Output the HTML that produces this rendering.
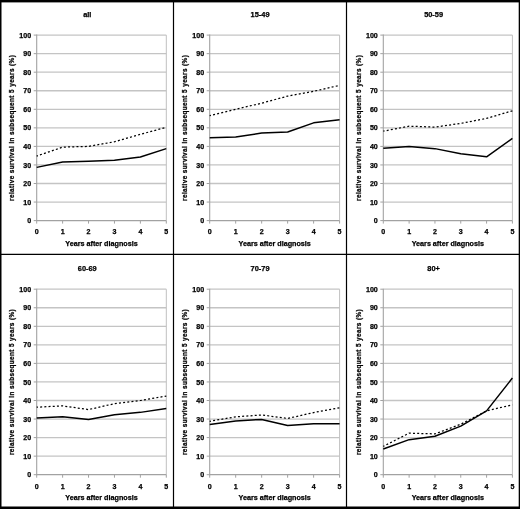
<!DOCTYPE html><html><head><meta charset="utf-8"><style>html,body{margin:0;padding:0;background:#fff;width:520px;height:509px;overflow:hidden}svg{display:block;will-change:transform}text{font-family:"Liberation Sans",sans-serif;font-weight:bold;fill:#000;stroke:#000;stroke-width:0.25px}</style></head><body>
<svg width="520" height="509" viewBox="0 0 520 509">
<g>
<rect x="0" y="0" width="520" height="509" fill="#fff"/>
<line x1="36.70" y1="202.05" x2="166.30" y2="202.05" stroke="#c4c4c4" stroke-width="1.3"/>
<line x1="36.70" y1="183.50" x2="166.30" y2="183.50" stroke="#c4c4c4" stroke-width="1.3"/>
<line x1="36.70" y1="164.95" x2="166.30" y2="164.95" stroke="#c4c4c4" stroke-width="1.3"/>
<line x1="36.70" y1="146.40" x2="166.30" y2="146.40" stroke="#c4c4c4" stroke-width="1.3"/>
<line x1="36.70" y1="127.85" x2="166.30" y2="127.85" stroke="#c4c4c4" stroke-width="1.3"/>
<line x1="36.70" y1="109.30" x2="166.30" y2="109.30" stroke="#c4c4c4" stroke-width="1.3"/>
<line x1="36.70" y1="90.75" x2="166.30" y2="90.75" stroke="#c4c4c4" stroke-width="1.3"/>
<line x1="36.70" y1="72.20" x2="166.30" y2="72.20" stroke="#c4c4c4" stroke-width="1.3"/>
<line x1="36.70" y1="53.65" x2="166.30" y2="53.65" stroke="#c4c4c4" stroke-width="1.3"/>
<line x1="36.70" y1="35.10" x2="166.30" y2="35.10" stroke="#c4c4c4" stroke-width="1.3"/>
<line x1="166.30" y1="35.10" x2="166.30" y2="220.60" stroke="#c0c0c0" stroke-width="1"/>
<line x1="36.70" y1="34.60" x2="36.70" y2="221.10" stroke="#a2a2a2" stroke-width="1.1"/>
<line x1="33.70" y1="220.60" x2="36.70" y2="220.60" stroke="#a2a2a2" stroke-width="1"/>
<text x="31.20" y="223.20" font-size="7.10" text-anchor="end">0</text>
<line x1="33.70" y1="202.05" x2="36.70" y2="202.05" stroke="#a2a2a2" stroke-width="1"/>
<text x="31.20" y="204.65" font-size="7.10" text-anchor="end">10</text>
<line x1="33.70" y1="183.50" x2="36.70" y2="183.50" stroke="#a2a2a2" stroke-width="1"/>
<text x="31.20" y="186.10" font-size="7.10" text-anchor="end">20</text>
<line x1="33.70" y1="164.95" x2="36.70" y2="164.95" stroke="#a2a2a2" stroke-width="1"/>
<text x="31.20" y="167.55" font-size="7.10" text-anchor="end">30</text>
<line x1="33.70" y1="146.40" x2="36.70" y2="146.40" stroke="#a2a2a2" stroke-width="1"/>
<text x="31.20" y="149.00" font-size="7.10" text-anchor="end">40</text>
<line x1="33.70" y1="127.85" x2="36.70" y2="127.85" stroke="#a2a2a2" stroke-width="1"/>
<text x="31.20" y="130.45" font-size="7.10" text-anchor="end">50</text>
<line x1="33.70" y1="109.30" x2="36.70" y2="109.30" stroke="#a2a2a2" stroke-width="1"/>
<text x="31.20" y="111.90" font-size="7.10" text-anchor="end">60</text>
<line x1="33.70" y1="90.75" x2="36.70" y2="90.75" stroke="#a2a2a2" stroke-width="1"/>
<text x="31.20" y="93.35" font-size="7.10" text-anchor="end">70</text>
<line x1="33.70" y1="72.20" x2="36.70" y2="72.20" stroke="#a2a2a2" stroke-width="1"/>
<text x="31.20" y="74.80" font-size="7.10" text-anchor="end">80</text>
<line x1="33.70" y1="53.65" x2="36.70" y2="53.65" stroke="#a2a2a2" stroke-width="1"/>
<text x="31.20" y="56.25" font-size="7.10" text-anchor="end">90</text>
<line x1="33.70" y1="35.10" x2="36.70" y2="35.10" stroke="#a2a2a2" stroke-width="1"/>
<text x="31.20" y="37.70" font-size="7.10" text-anchor="end">100</text>
<line x1="36.70" y1="220.60" x2="166.30" y2="220.60" stroke="#a2a2a2" stroke-width="1.3"/>
<line x1="36.70" y1="220.60" x2="36.70" y2="223.60" stroke="#a2a2a2" stroke-width="1"/>
<text x="36.70" y="234.40" font-size="7.10" text-anchor="middle">0</text>
<line x1="62.62" y1="220.60" x2="62.62" y2="223.60" stroke="#a2a2a2" stroke-width="1"/>
<text x="62.62" y="234.40" font-size="7.10" text-anchor="middle">1</text>
<line x1="88.54" y1="220.60" x2="88.54" y2="223.60" stroke="#a2a2a2" stroke-width="1"/>
<text x="88.54" y="234.40" font-size="7.10" text-anchor="middle">2</text>
<line x1="114.46" y1="220.60" x2="114.46" y2="223.60" stroke="#a2a2a2" stroke-width="1"/>
<text x="114.46" y="234.40" font-size="7.10" text-anchor="middle">3</text>
<line x1="140.38" y1="220.60" x2="140.38" y2="223.60" stroke="#a2a2a2" stroke-width="1"/>
<text x="140.38" y="234.40" font-size="7.10" text-anchor="middle">4</text>
<line x1="166.30" y1="220.60" x2="166.30" y2="223.60" stroke="#a2a2a2" stroke-width="1"/>
<text x="166.30" y="234.40" font-size="7.10" text-anchor="middle">5</text>
<text x="101.50" y="245.90" font-size="7.20" text-anchor="middle">Years after diagnosis</text>
<text x="0" y="0" font-size="6.40" text-anchor="middle" letter-spacing="0.4" transform="translate(14.00 127.85) rotate(-90)">relative survival in subsequent 5 years (%)</text>
<text x="87.25" y="16.75" font-size="7.40" text-anchor="middle">all</text>
<polyline points="36.70,156.05 62.62,147.14 88.54,146.40 114.46,141.76 140.38,134.34 166.30,127.29" fill="none" stroke="#000" stroke-width="1.25" stroke-dasharray="2 2.2" stroke-dashoffset="0.75" stroke-linejoin="round"/>
<polyline points="36.70,167.36 62.62,161.98 88.54,161.24 114.46,160.31 140.38,156.97 166.30,148.63" fill="none" stroke="#000" stroke-width="1.5" stroke-linejoin="round"/>
<line x1="209.70" y1="202.05" x2="339.60" y2="202.05" stroke="#c4c4c4" stroke-width="1.3"/>
<line x1="209.70" y1="183.50" x2="339.60" y2="183.50" stroke="#c4c4c4" stroke-width="1.3"/>
<line x1="209.70" y1="164.95" x2="339.60" y2="164.95" stroke="#c4c4c4" stroke-width="1.3"/>
<line x1="209.70" y1="146.40" x2="339.60" y2="146.40" stroke="#c4c4c4" stroke-width="1.3"/>
<line x1="209.70" y1="127.85" x2="339.60" y2="127.85" stroke="#c4c4c4" stroke-width="1.3"/>
<line x1="209.70" y1="109.30" x2="339.60" y2="109.30" stroke="#c4c4c4" stroke-width="1.3"/>
<line x1="209.70" y1="90.75" x2="339.60" y2="90.75" stroke="#c4c4c4" stroke-width="1.3"/>
<line x1="209.70" y1="72.20" x2="339.60" y2="72.20" stroke="#c4c4c4" stroke-width="1.3"/>
<line x1="209.70" y1="53.65" x2="339.60" y2="53.65" stroke="#c4c4c4" stroke-width="1.3"/>
<line x1="209.70" y1="35.10" x2="339.60" y2="35.10" stroke="#c4c4c4" stroke-width="1.3"/>
<line x1="339.60" y1="35.10" x2="339.60" y2="220.60" stroke="#c0c0c0" stroke-width="1"/>
<line x1="209.70" y1="34.60" x2="209.70" y2="221.10" stroke="#a2a2a2" stroke-width="1.1"/>
<line x1="206.70" y1="220.60" x2="209.70" y2="220.60" stroke="#a2a2a2" stroke-width="1"/>
<text x="204.20" y="223.20" font-size="7.10" text-anchor="end">0</text>
<line x1="206.70" y1="202.05" x2="209.70" y2="202.05" stroke="#a2a2a2" stroke-width="1"/>
<text x="204.20" y="204.65" font-size="7.10" text-anchor="end">10</text>
<line x1="206.70" y1="183.50" x2="209.70" y2="183.50" stroke="#a2a2a2" stroke-width="1"/>
<text x="204.20" y="186.10" font-size="7.10" text-anchor="end">20</text>
<line x1="206.70" y1="164.95" x2="209.70" y2="164.95" stroke="#a2a2a2" stroke-width="1"/>
<text x="204.20" y="167.55" font-size="7.10" text-anchor="end">30</text>
<line x1="206.70" y1="146.40" x2="209.70" y2="146.40" stroke="#a2a2a2" stroke-width="1"/>
<text x="204.20" y="149.00" font-size="7.10" text-anchor="end">40</text>
<line x1="206.70" y1="127.85" x2="209.70" y2="127.85" stroke="#a2a2a2" stroke-width="1"/>
<text x="204.20" y="130.45" font-size="7.10" text-anchor="end">50</text>
<line x1="206.70" y1="109.30" x2="209.70" y2="109.30" stroke="#a2a2a2" stroke-width="1"/>
<text x="204.20" y="111.90" font-size="7.10" text-anchor="end">60</text>
<line x1="206.70" y1="90.75" x2="209.70" y2="90.75" stroke="#a2a2a2" stroke-width="1"/>
<text x="204.20" y="93.35" font-size="7.10" text-anchor="end">70</text>
<line x1="206.70" y1="72.20" x2="209.70" y2="72.20" stroke="#a2a2a2" stroke-width="1"/>
<text x="204.20" y="74.80" font-size="7.10" text-anchor="end">80</text>
<line x1="206.70" y1="53.65" x2="209.70" y2="53.65" stroke="#a2a2a2" stroke-width="1"/>
<text x="204.20" y="56.25" font-size="7.10" text-anchor="end">90</text>
<line x1="206.70" y1="35.10" x2="209.70" y2="35.10" stroke="#a2a2a2" stroke-width="1"/>
<text x="204.20" y="37.70" font-size="7.10" text-anchor="end">100</text>
<line x1="209.70" y1="220.60" x2="339.60" y2="220.60" stroke="#a2a2a2" stroke-width="1.3"/>
<line x1="209.70" y1="220.60" x2="209.70" y2="223.60" stroke="#a2a2a2" stroke-width="1"/>
<text x="209.70" y="234.40" font-size="7.10" text-anchor="middle">0</text>
<line x1="235.68" y1="220.60" x2="235.68" y2="223.60" stroke="#a2a2a2" stroke-width="1"/>
<text x="235.68" y="234.40" font-size="7.10" text-anchor="middle">1</text>
<line x1="261.66" y1="220.60" x2="261.66" y2="223.60" stroke="#a2a2a2" stroke-width="1"/>
<text x="261.66" y="234.40" font-size="7.10" text-anchor="middle">2</text>
<line x1="287.64" y1="220.60" x2="287.64" y2="223.60" stroke="#a2a2a2" stroke-width="1"/>
<text x="287.64" y="234.40" font-size="7.10" text-anchor="middle">3</text>
<line x1="313.62" y1="220.60" x2="313.62" y2="223.60" stroke="#a2a2a2" stroke-width="1"/>
<text x="313.62" y="234.40" font-size="7.10" text-anchor="middle">4</text>
<line x1="339.60" y1="220.60" x2="339.60" y2="223.60" stroke="#a2a2a2" stroke-width="1"/>
<text x="339.60" y="234.40" font-size="7.10" text-anchor="middle">5</text>
<text x="274.65" y="245.90" font-size="7.20" text-anchor="middle">Years after diagnosis</text>
<text x="0" y="0" font-size="6.40" text-anchor="middle" letter-spacing="0.4" transform="translate(187.00 127.85) rotate(-90)">relative survival in subsequent 5 years (%)</text>
<text x="260.05" y="16.75" font-size="7.40" text-anchor="middle">15-49</text>
<polyline points="209.70,115.61 235.68,109.30 261.66,103.18 287.64,96.13 313.62,91.31 339.60,85.37" fill="none" stroke="#000" stroke-width="1.25" stroke-dasharray="2 2.2" stroke-dashoffset="0.75" stroke-linejoin="round"/>
<polyline points="209.70,137.68 235.68,136.94 261.66,133.04 287.64,131.93 313.62,122.84 339.60,119.87" fill="none" stroke="#000" stroke-width="1.5" stroke-linejoin="round"/>
<line x1="383.30" y1="202.05" x2="512.40" y2="202.05" stroke="#c4c4c4" stroke-width="1.3"/>
<line x1="383.30" y1="183.50" x2="512.40" y2="183.50" stroke="#c4c4c4" stroke-width="1.3"/>
<line x1="383.30" y1="164.95" x2="512.40" y2="164.95" stroke="#c4c4c4" stroke-width="1.3"/>
<line x1="383.30" y1="146.40" x2="512.40" y2="146.40" stroke="#c4c4c4" stroke-width="1.3"/>
<line x1="383.30" y1="127.85" x2="512.40" y2="127.85" stroke="#c4c4c4" stroke-width="1.3"/>
<line x1="383.30" y1="109.30" x2="512.40" y2="109.30" stroke="#c4c4c4" stroke-width="1.3"/>
<line x1="383.30" y1="90.75" x2="512.40" y2="90.75" stroke="#c4c4c4" stroke-width="1.3"/>
<line x1="383.30" y1="72.20" x2="512.40" y2="72.20" stroke="#c4c4c4" stroke-width="1.3"/>
<line x1="383.30" y1="53.65" x2="512.40" y2="53.65" stroke="#c4c4c4" stroke-width="1.3"/>
<line x1="383.30" y1="35.10" x2="512.40" y2="35.10" stroke="#c4c4c4" stroke-width="1.3"/>
<line x1="512.40" y1="35.10" x2="512.40" y2="220.60" stroke="#c0c0c0" stroke-width="1"/>
<line x1="383.30" y1="34.60" x2="383.30" y2="221.10" stroke="#a2a2a2" stroke-width="1.1"/>
<line x1="380.30" y1="220.60" x2="383.30" y2="220.60" stroke="#a2a2a2" stroke-width="1"/>
<text x="377.80" y="223.20" font-size="7.10" text-anchor="end">0</text>
<line x1="380.30" y1="202.05" x2="383.30" y2="202.05" stroke="#a2a2a2" stroke-width="1"/>
<text x="377.80" y="204.65" font-size="7.10" text-anchor="end">10</text>
<line x1="380.30" y1="183.50" x2="383.30" y2="183.50" stroke="#a2a2a2" stroke-width="1"/>
<text x="377.80" y="186.10" font-size="7.10" text-anchor="end">20</text>
<line x1="380.30" y1="164.95" x2="383.30" y2="164.95" stroke="#a2a2a2" stroke-width="1"/>
<text x="377.80" y="167.55" font-size="7.10" text-anchor="end">30</text>
<line x1="380.30" y1="146.40" x2="383.30" y2="146.40" stroke="#a2a2a2" stroke-width="1"/>
<text x="377.80" y="149.00" font-size="7.10" text-anchor="end">40</text>
<line x1="380.30" y1="127.85" x2="383.30" y2="127.85" stroke="#a2a2a2" stroke-width="1"/>
<text x="377.80" y="130.45" font-size="7.10" text-anchor="end">50</text>
<line x1="380.30" y1="109.30" x2="383.30" y2="109.30" stroke="#a2a2a2" stroke-width="1"/>
<text x="377.80" y="111.90" font-size="7.10" text-anchor="end">60</text>
<line x1="380.30" y1="90.75" x2="383.30" y2="90.75" stroke="#a2a2a2" stroke-width="1"/>
<text x="377.80" y="93.35" font-size="7.10" text-anchor="end">70</text>
<line x1="380.30" y1="72.20" x2="383.30" y2="72.20" stroke="#a2a2a2" stroke-width="1"/>
<text x="377.80" y="74.80" font-size="7.10" text-anchor="end">80</text>
<line x1="380.30" y1="53.65" x2="383.30" y2="53.65" stroke="#a2a2a2" stroke-width="1"/>
<text x="377.80" y="56.25" font-size="7.10" text-anchor="end">90</text>
<line x1="380.30" y1="35.10" x2="383.30" y2="35.10" stroke="#a2a2a2" stroke-width="1"/>
<text x="377.80" y="37.70" font-size="7.10" text-anchor="end">100</text>
<line x1="383.30" y1="220.60" x2="512.40" y2="220.60" stroke="#a2a2a2" stroke-width="1.3"/>
<line x1="383.30" y1="220.60" x2="383.30" y2="223.60" stroke="#a2a2a2" stroke-width="1"/>
<text x="383.30" y="234.40" font-size="7.10" text-anchor="middle">0</text>
<line x1="409.12" y1="220.60" x2="409.12" y2="223.60" stroke="#a2a2a2" stroke-width="1"/>
<text x="409.12" y="234.40" font-size="7.10" text-anchor="middle">1</text>
<line x1="434.94" y1="220.60" x2="434.94" y2="223.60" stroke="#a2a2a2" stroke-width="1"/>
<text x="434.94" y="234.40" font-size="7.10" text-anchor="middle">2</text>
<line x1="460.76" y1="220.60" x2="460.76" y2="223.60" stroke="#a2a2a2" stroke-width="1"/>
<text x="460.76" y="234.40" font-size="7.10" text-anchor="middle">3</text>
<line x1="486.58" y1="220.60" x2="486.58" y2="223.60" stroke="#a2a2a2" stroke-width="1"/>
<text x="486.58" y="234.40" font-size="7.10" text-anchor="middle">4</text>
<line x1="512.40" y1="220.60" x2="512.40" y2="223.60" stroke="#a2a2a2" stroke-width="1"/>
<text x="512.40" y="234.40" font-size="7.10" text-anchor="middle">5</text>
<text x="447.85" y="245.90" font-size="7.20" text-anchor="middle">Years after diagnosis</text>
<text x="0" y="0" font-size="6.40" text-anchor="middle" letter-spacing="0.4" transform="translate(360.60 127.85) rotate(-90)">relative survival in subsequent 5 years (%)</text>
<text x="433.60" y="16.75" font-size="7.40" text-anchor="middle">50-59</text>
<polyline points="383.30,131.19 409.12,126.18 434.94,127.11 460.76,123.40 486.58,118.39 512.40,110.78" fill="none" stroke="#000" stroke-width="1.25" stroke-dasharray="2 2.2" stroke-dashoffset="0.75" stroke-linejoin="round"/>
<polyline points="383.30,148.25 409.12,146.40 434.94,148.63 460.76,153.82 486.58,156.79 512.40,138.42" fill="none" stroke="#000" stroke-width="1.5" stroke-linejoin="round"/>
<line x1="36.70" y1="456.15" x2="166.30" y2="456.15" stroke="#c4c4c4" stroke-width="1.3"/>
<line x1="36.70" y1="437.60" x2="166.30" y2="437.60" stroke="#c4c4c4" stroke-width="1.3"/>
<line x1="36.70" y1="419.05" x2="166.30" y2="419.05" stroke="#c4c4c4" stroke-width="1.3"/>
<line x1="36.70" y1="400.50" x2="166.30" y2="400.50" stroke="#c4c4c4" stroke-width="1.3"/>
<line x1="36.70" y1="381.95" x2="166.30" y2="381.95" stroke="#c4c4c4" stroke-width="1.3"/>
<line x1="36.70" y1="363.40" x2="166.30" y2="363.40" stroke="#c4c4c4" stroke-width="1.3"/>
<line x1="36.70" y1="344.85" x2="166.30" y2="344.85" stroke="#c4c4c4" stroke-width="1.3"/>
<line x1="36.70" y1="326.30" x2="166.30" y2="326.30" stroke="#c4c4c4" stroke-width="1.3"/>
<line x1="36.70" y1="307.75" x2="166.30" y2="307.75" stroke="#c4c4c4" stroke-width="1.3"/>
<line x1="36.70" y1="289.20" x2="166.30" y2="289.20" stroke="#c4c4c4" stroke-width="1.3"/>
<line x1="166.30" y1="289.20" x2="166.30" y2="474.70" stroke="#c0c0c0" stroke-width="1"/>
<line x1="36.70" y1="288.70" x2="36.70" y2="475.20" stroke="#a2a2a2" stroke-width="1.1"/>
<line x1="33.70" y1="474.70" x2="36.70" y2="474.70" stroke="#a2a2a2" stroke-width="1"/>
<text x="31.20" y="477.30" font-size="7.10" text-anchor="end">0</text>
<line x1="33.70" y1="456.15" x2="36.70" y2="456.15" stroke="#a2a2a2" stroke-width="1"/>
<text x="31.20" y="458.75" font-size="7.10" text-anchor="end">10</text>
<line x1="33.70" y1="437.60" x2="36.70" y2="437.60" stroke="#a2a2a2" stroke-width="1"/>
<text x="31.20" y="440.20" font-size="7.10" text-anchor="end">20</text>
<line x1="33.70" y1="419.05" x2="36.70" y2="419.05" stroke="#a2a2a2" stroke-width="1"/>
<text x="31.20" y="421.65" font-size="7.10" text-anchor="end">30</text>
<line x1="33.70" y1="400.50" x2="36.70" y2="400.50" stroke="#a2a2a2" stroke-width="1"/>
<text x="31.20" y="403.10" font-size="7.10" text-anchor="end">40</text>
<line x1="33.70" y1="381.95" x2="36.70" y2="381.95" stroke="#a2a2a2" stroke-width="1"/>
<text x="31.20" y="384.55" font-size="7.10" text-anchor="end">50</text>
<line x1="33.70" y1="363.40" x2="36.70" y2="363.40" stroke="#a2a2a2" stroke-width="1"/>
<text x="31.20" y="366.00" font-size="7.10" text-anchor="end">60</text>
<line x1="33.70" y1="344.85" x2="36.70" y2="344.85" stroke="#a2a2a2" stroke-width="1"/>
<text x="31.20" y="347.45" font-size="7.10" text-anchor="end">70</text>
<line x1="33.70" y1="326.30" x2="36.70" y2="326.30" stroke="#a2a2a2" stroke-width="1"/>
<text x="31.20" y="328.90" font-size="7.10" text-anchor="end">80</text>
<line x1="33.70" y1="307.75" x2="36.70" y2="307.75" stroke="#a2a2a2" stroke-width="1"/>
<text x="31.20" y="310.35" font-size="7.10" text-anchor="end">90</text>
<line x1="33.70" y1="289.20" x2="36.70" y2="289.20" stroke="#a2a2a2" stroke-width="1"/>
<text x="31.20" y="291.80" font-size="7.10" text-anchor="end">100</text>
<line x1="36.70" y1="474.70" x2="166.30" y2="474.70" stroke="#a2a2a2" stroke-width="1.3"/>
<line x1="36.70" y1="474.70" x2="36.70" y2="477.70" stroke="#a2a2a2" stroke-width="1"/>
<text x="36.70" y="488.50" font-size="7.10" text-anchor="middle">0</text>
<line x1="62.62" y1="474.70" x2="62.62" y2="477.70" stroke="#a2a2a2" stroke-width="1"/>
<text x="62.62" y="488.50" font-size="7.10" text-anchor="middle">1</text>
<line x1="88.54" y1="474.70" x2="88.54" y2="477.70" stroke="#a2a2a2" stroke-width="1"/>
<text x="88.54" y="488.50" font-size="7.10" text-anchor="middle">2</text>
<line x1="114.46" y1="474.70" x2="114.46" y2="477.70" stroke="#a2a2a2" stroke-width="1"/>
<text x="114.46" y="488.50" font-size="7.10" text-anchor="middle">3</text>
<line x1="140.38" y1="474.70" x2="140.38" y2="477.70" stroke="#a2a2a2" stroke-width="1"/>
<text x="140.38" y="488.50" font-size="7.10" text-anchor="middle">4</text>
<line x1="166.30" y1="474.70" x2="166.30" y2="477.70" stroke="#a2a2a2" stroke-width="1"/>
<text x="166.30" y="488.50" font-size="7.10" text-anchor="middle">5</text>
<text x="101.50" y="500.00" font-size="7.20" text-anchor="middle">Years after diagnosis</text>
<text x="0" y="0" font-size="6.40" text-anchor="middle" letter-spacing="0.4" transform="translate(14.00 381.95) rotate(-90)">relative survival in subsequent 5 years (%)</text>
<text x="87.25" y="270.75" font-size="7.40" text-anchor="middle">60-69</text>
<polyline points="36.70,407.18 62.62,405.88 88.54,409.59 114.46,403.65 140.38,400.50 166.30,396.05" fill="none" stroke="#000" stroke-width="1.25" stroke-dasharray="2 2.2" stroke-dashoffset="0.75" stroke-linejoin="round"/>
<polyline points="36.70,417.94 62.62,416.64 88.54,419.42 114.46,414.78 140.38,412.37 166.30,408.48" fill="none" stroke="#000" stroke-width="1.5" stroke-linejoin="round"/>
<line x1="209.70" y1="456.15" x2="339.60" y2="456.15" stroke="#c4c4c4" stroke-width="1.3"/>
<line x1="209.70" y1="437.60" x2="339.60" y2="437.60" stroke="#c4c4c4" stroke-width="1.3"/>
<line x1="209.70" y1="419.05" x2="339.60" y2="419.05" stroke="#c4c4c4" stroke-width="1.3"/>
<line x1="209.70" y1="400.50" x2="339.60" y2="400.50" stroke="#c4c4c4" stroke-width="1.3"/>
<line x1="209.70" y1="381.95" x2="339.60" y2="381.95" stroke="#c4c4c4" stroke-width="1.3"/>
<line x1="209.70" y1="363.40" x2="339.60" y2="363.40" stroke="#c4c4c4" stroke-width="1.3"/>
<line x1="209.70" y1="344.85" x2="339.60" y2="344.85" stroke="#c4c4c4" stroke-width="1.3"/>
<line x1="209.70" y1="326.30" x2="339.60" y2="326.30" stroke="#c4c4c4" stroke-width="1.3"/>
<line x1="209.70" y1="307.75" x2="339.60" y2="307.75" stroke="#c4c4c4" stroke-width="1.3"/>
<line x1="209.70" y1="289.20" x2="339.60" y2="289.20" stroke="#c4c4c4" stroke-width="1.3"/>
<line x1="339.60" y1="289.20" x2="339.60" y2="474.70" stroke="#c0c0c0" stroke-width="1"/>
<line x1="209.70" y1="288.70" x2="209.70" y2="475.20" stroke="#a2a2a2" stroke-width="1.1"/>
<line x1="206.70" y1="474.70" x2="209.70" y2="474.70" stroke="#a2a2a2" stroke-width="1"/>
<text x="204.20" y="477.30" font-size="7.10" text-anchor="end">0</text>
<line x1="206.70" y1="456.15" x2="209.70" y2="456.15" stroke="#a2a2a2" stroke-width="1"/>
<text x="204.20" y="458.75" font-size="7.10" text-anchor="end">10</text>
<line x1="206.70" y1="437.60" x2="209.70" y2="437.60" stroke="#a2a2a2" stroke-width="1"/>
<text x="204.20" y="440.20" font-size="7.10" text-anchor="end">20</text>
<line x1="206.70" y1="419.05" x2="209.70" y2="419.05" stroke="#a2a2a2" stroke-width="1"/>
<text x="204.20" y="421.65" font-size="7.10" text-anchor="end">30</text>
<line x1="206.70" y1="400.50" x2="209.70" y2="400.50" stroke="#a2a2a2" stroke-width="1"/>
<text x="204.20" y="403.10" font-size="7.10" text-anchor="end">40</text>
<line x1="206.70" y1="381.95" x2="209.70" y2="381.95" stroke="#a2a2a2" stroke-width="1"/>
<text x="204.20" y="384.55" font-size="7.10" text-anchor="end">50</text>
<line x1="206.70" y1="363.40" x2="209.70" y2="363.40" stroke="#a2a2a2" stroke-width="1"/>
<text x="204.20" y="366.00" font-size="7.10" text-anchor="end">60</text>
<line x1="206.70" y1="344.85" x2="209.70" y2="344.85" stroke="#a2a2a2" stroke-width="1"/>
<text x="204.20" y="347.45" font-size="7.10" text-anchor="end">70</text>
<line x1="206.70" y1="326.30" x2="209.70" y2="326.30" stroke="#a2a2a2" stroke-width="1"/>
<text x="204.20" y="328.90" font-size="7.10" text-anchor="end">80</text>
<line x1="206.70" y1="307.75" x2="209.70" y2="307.75" stroke="#a2a2a2" stroke-width="1"/>
<text x="204.20" y="310.35" font-size="7.10" text-anchor="end">90</text>
<line x1="206.70" y1="289.20" x2="209.70" y2="289.20" stroke="#a2a2a2" stroke-width="1"/>
<text x="204.20" y="291.80" font-size="7.10" text-anchor="end">100</text>
<line x1="209.70" y1="474.70" x2="339.60" y2="474.70" stroke="#a2a2a2" stroke-width="1.3"/>
<line x1="209.70" y1="474.70" x2="209.70" y2="477.70" stroke="#a2a2a2" stroke-width="1"/>
<text x="209.70" y="488.50" font-size="7.10" text-anchor="middle">0</text>
<line x1="235.68" y1="474.70" x2="235.68" y2="477.70" stroke="#a2a2a2" stroke-width="1"/>
<text x="235.68" y="488.50" font-size="7.10" text-anchor="middle">1</text>
<line x1="261.66" y1="474.70" x2="261.66" y2="477.70" stroke="#a2a2a2" stroke-width="1"/>
<text x="261.66" y="488.50" font-size="7.10" text-anchor="middle">2</text>
<line x1="287.64" y1="474.70" x2="287.64" y2="477.70" stroke="#a2a2a2" stroke-width="1"/>
<text x="287.64" y="488.50" font-size="7.10" text-anchor="middle">3</text>
<line x1="313.62" y1="474.70" x2="313.62" y2="477.70" stroke="#a2a2a2" stroke-width="1"/>
<text x="313.62" y="488.50" font-size="7.10" text-anchor="middle">4</text>
<line x1="339.60" y1="474.70" x2="339.60" y2="477.70" stroke="#a2a2a2" stroke-width="1"/>
<text x="339.60" y="488.50" font-size="7.10" text-anchor="middle">5</text>
<text x="274.65" y="500.00" font-size="7.20" text-anchor="middle">Years after diagnosis</text>
<text x="0" y="0" font-size="6.40" text-anchor="middle" letter-spacing="0.4" transform="translate(187.00 381.95) rotate(-90)">relative survival in subsequent 5 years (%)</text>
<text x="260.05" y="270.75" font-size="7.40" text-anchor="middle">70-79</text>
<polyline points="209.70,421.28 235.68,416.82 261.66,414.97 287.64,418.49 313.62,412.56 339.60,407.73" fill="none" stroke="#000" stroke-width="1.25" stroke-dasharray="2 2.2" stroke-dashoffset="0.75" stroke-linejoin="round"/>
<polyline points="209.70,424.43 235.68,420.90 261.66,419.42 287.64,425.54 313.62,423.69 339.60,423.87" fill="none" stroke="#000" stroke-width="1.5" stroke-linejoin="round"/>
<line x1="383.30" y1="456.15" x2="512.40" y2="456.15" stroke="#c4c4c4" stroke-width="1.3"/>
<line x1="383.30" y1="437.60" x2="512.40" y2="437.60" stroke="#c4c4c4" stroke-width="1.3"/>
<line x1="383.30" y1="419.05" x2="512.40" y2="419.05" stroke="#c4c4c4" stroke-width="1.3"/>
<line x1="383.30" y1="400.50" x2="512.40" y2="400.50" stroke="#c4c4c4" stroke-width="1.3"/>
<line x1="383.30" y1="381.95" x2="512.40" y2="381.95" stroke="#c4c4c4" stroke-width="1.3"/>
<line x1="383.30" y1="363.40" x2="512.40" y2="363.40" stroke="#c4c4c4" stroke-width="1.3"/>
<line x1="383.30" y1="344.85" x2="512.40" y2="344.85" stroke="#c4c4c4" stroke-width="1.3"/>
<line x1="383.30" y1="326.30" x2="512.40" y2="326.30" stroke="#c4c4c4" stroke-width="1.3"/>
<line x1="383.30" y1="307.75" x2="512.40" y2="307.75" stroke="#c4c4c4" stroke-width="1.3"/>
<line x1="383.30" y1="289.20" x2="512.40" y2="289.20" stroke="#c4c4c4" stroke-width="1.3"/>
<line x1="512.40" y1="289.20" x2="512.40" y2="474.70" stroke="#c0c0c0" stroke-width="1"/>
<line x1="383.30" y1="288.70" x2="383.30" y2="475.20" stroke="#a2a2a2" stroke-width="1.1"/>
<line x1="380.30" y1="474.70" x2="383.30" y2="474.70" stroke="#a2a2a2" stroke-width="1"/>
<text x="377.80" y="477.30" font-size="7.10" text-anchor="end">0</text>
<line x1="380.30" y1="456.15" x2="383.30" y2="456.15" stroke="#a2a2a2" stroke-width="1"/>
<text x="377.80" y="458.75" font-size="7.10" text-anchor="end">10</text>
<line x1="380.30" y1="437.60" x2="383.30" y2="437.60" stroke="#a2a2a2" stroke-width="1"/>
<text x="377.80" y="440.20" font-size="7.10" text-anchor="end">20</text>
<line x1="380.30" y1="419.05" x2="383.30" y2="419.05" stroke="#a2a2a2" stroke-width="1"/>
<text x="377.80" y="421.65" font-size="7.10" text-anchor="end">30</text>
<line x1="380.30" y1="400.50" x2="383.30" y2="400.50" stroke="#a2a2a2" stroke-width="1"/>
<text x="377.80" y="403.10" font-size="7.10" text-anchor="end">40</text>
<line x1="380.30" y1="381.95" x2="383.30" y2="381.95" stroke="#a2a2a2" stroke-width="1"/>
<text x="377.80" y="384.55" font-size="7.10" text-anchor="end">50</text>
<line x1="380.30" y1="363.40" x2="383.30" y2="363.40" stroke="#a2a2a2" stroke-width="1"/>
<text x="377.80" y="366.00" font-size="7.10" text-anchor="end">60</text>
<line x1="380.30" y1="344.85" x2="383.30" y2="344.85" stroke="#a2a2a2" stroke-width="1"/>
<text x="377.80" y="347.45" font-size="7.10" text-anchor="end">70</text>
<line x1="380.30" y1="326.30" x2="383.30" y2="326.30" stroke="#a2a2a2" stroke-width="1"/>
<text x="377.80" y="328.90" font-size="7.10" text-anchor="end">80</text>
<line x1="380.30" y1="307.75" x2="383.30" y2="307.75" stroke="#a2a2a2" stroke-width="1"/>
<text x="377.80" y="310.35" font-size="7.10" text-anchor="end">90</text>
<line x1="380.30" y1="289.20" x2="383.30" y2="289.20" stroke="#a2a2a2" stroke-width="1"/>
<text x="377.80" y="291.80" font-size="7.10" text-anchor="end">100</text>
<line x1="383.30" y1="474.70" x2="512.40" y2="474.70" stroke="#a2a2a2" stroke-width="1.3"/>
<line x1="383.30" y1="474.70" x2="383.30" y2="477.70" stroke="#a2a2a2" stroke-width="1"/>
<text x="383.30" y="488.50" font-size="7.10" text-anchor="middle">0</text>
<line x1="409.12" y1="474.70" x2="409.12" y2="477.70" stroke="#a2a2a2" stroke-width="1"/>
<text x="409.12" y="488.50" font-size="7.10" text-anchor="middle">1</text>
<line x1="434.94" y1="474.70" x2="434.94" y2="477.70" stroke="#a2a2a2" stroke-width="1"/>
<text x="434.94" y="488.50" font-size="7.10" text-anchor="middle">2</text>
<line x1="460.76" y1="474.70" x2="460.76" y2="477.70" stroke="#a2a2a2" stroke-width="1"/>
<text x="460.76" y="488.50" font-size="7.10" text-anchor="middle">3</text>
<line x1="486.58" y1="474.70" x2="486.58" y2="477.70" stroke="#a2a2a2" stroke-width="1"/>
<text x="486.58" y="488.50" font-size="7.10" text-anchor="middle">4</text>
<line x1="512.40" y1="474.70" x2="512.40" y2="477.70" stroke="#a2a2a2" stroke-width="1"/>
<text x="512.40" y="488.50" font-size="7.10" text-anchor="middle">5</text>
<text x="447.85" y="500.00" font-size="7.20" text-anchor="middle">Years after diagnosis</text>
<text x="0" y="0" font-size="6.40" text-anchor="middle" letter-spacing="0.4" transform="translate(360.60 381.95) rotate(-90)">relative survival in subsequent 5 years (%)</text>
<text x="433.60" y="270.75" font-size="7.40" text-anchor="middle">80+</text>
<polyline points="383.30,446.32 409.12,433.15 434.94,433.89 460.76,424.24 486.58,410.89 512.40,404.77" fill="none" stroke="#000" stroke-width="1.25" stroke-dasharray="2 2.2" stroke-dashoffset="0.75" stroke-linejoin="round"/>
<polyline points="383.30,448.92 409.12,439.64 434.94,436.30 460.76,426.10 486.58,410.89 512.40,378.05" fill="none" stroke="#000" stroke-width="1.5" stroke-linejoin="round"/>
<line x1="173.5" y1="0" x2="173.5" y2="509" stroke="#000" stroke-width="1.2"/>
<line x1="346.5" y1="0" x2="346.5" y2="509" stroke="#000" stroke-width="1.2"/>
<line x1="0" y1="254.45" x2="520" y2="254.45" stroke="#000" stroke-width="1.2"/>
<rect x="0" y="0" width="520" height="2.4" fill="#000"/>
<rect x="0" y="0" width="1.5" height="509" fill="#000"/>
<rect x="518.7" y="0" width="1.3" height="509" fill="#000"/>
<rect x="0" y="506.5" width="520" height="2.5" fill="#000"/>
</g></svg></body></html>
